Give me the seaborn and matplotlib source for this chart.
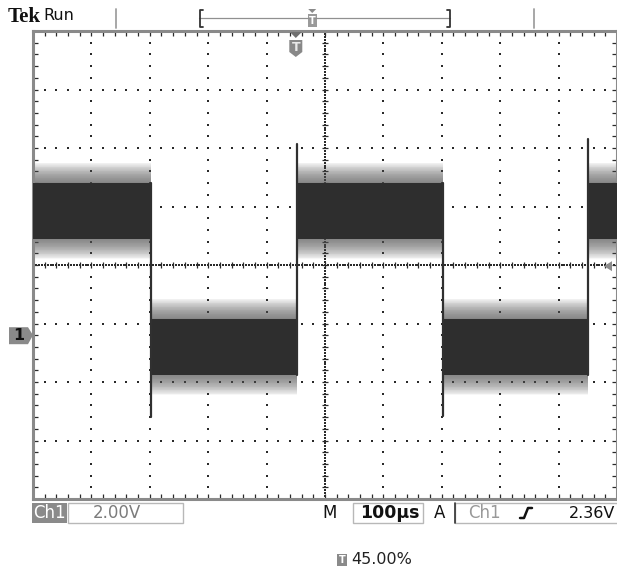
import numpy as np
import pandas as pd
import matplotlib
matplotlib.use("Agg")
import matplotlib.pyplot as plt
import seaborn as sns
from matplotlib.patches import Rectangle, Polygon

# scope settings shown on screen
time_per_div_us = 100
volts_per_div = 2.0
screen_center_v = 2.4
trigger_level_v = 2.36
trigger_pos_pct = 45.0

# square wave
edge_times_us = [202, 452, 702, 950]
spike_tips_v = [-2.8, 6.55, -2.75, 6.7]
start_state = "high"
high_level_v = 4.25
low_level_v = -0.4
core_half_v = 0.95
fuzz_half_v = 1.65

# status bar text
ch_label = "Ch1"
ch_scale = "2.00V"
time_scale = "100µs"
trig_source = "Ch1"
trig_level_text = "2.36V"
trig_pos_text = "45.00%"

sns.set_style("white")
plt.rcParams["font.family"] = ["DejaVu Sans"]

W, H = 617, 567
fig = plt.figure(figsize=(W / 100, H / 100), dpi=100)
ax_left, ax_right, ax_top, ax_bot = 33, 617, 31, 499
ax = fig.add_axes([ax_left / W, 1 - ax_bot / H, (ax_right - ax_left) / W, (ax_bot - ax_top) / H])

t_max = 10 * time_per_div_us
v_lo = screen_center_v - 4 * volts_per_div
v_hi = screen_center_v + 4 * volts_per_div
ax.set_xlim(0, t_max)
ax.set_ylim(v_lo, v_hi)

# ---- graticule ----
x_minor = np.arange(0, t_max + 0.1, time_per_div_us / 5)
y_minor = np.arange(v_lo, v_hi + 0.01, volts_per_div / 5)
x_major = np.arange(time_per_div_us, t_max, time_per_div_us)
y_major = np.arange(v_lo + volts_per_div, v_hi - 0.01, volts_per_div)
grid_col = "#2a2a2a"

for gx in x_major:
    if abs(gx - t_max / 2) > 1:
        ax.scatter(np.full_like(y_minor, gx), y_minor, s=1.6, marker="s", color=grid_col, lw=0, zorder=1)
for gy in y_major:
    if abs(gy - screen_center_v) > 0.01:
        ax.scatter(x_minor, np.full_like(x_minor, gy), s=1.6, marker="s", color=grid_col, lw=0, zorder=1)

# center cross lines: fine dots plus small ticks
x_fine = np.arange(0, t_max + 0.1, time_per_div_us / 20)
y_fine = np.arange(v_lo, v_hi + 0.01, volts_per_div / 20)
ax.scatter(x_fine, np.full_like(x_fine, screen_center_v), s=1.2, marker="s", color=grid_col, lw=0, zorder=1)
ax.scatter(np.full_like(y_fine, t_max / 2), y_fine, s=1.2, marker="s", color=grid_col, lw=0, zorder=1)
ax.scatter(x_minor, np.full_like(x_minor, screen_center_v), s=14, marker="|", color=grid_col, lw=0.9, zorder=1)
ax.scatter(np.full_like(y_minor, t_max / 2), y_minor, s=14, marker="_", color=grid_col, lw=0.9, zorder=1)

ax.set_xticks(x_minor)
ax.set_yticks(y_minor)
ax.tick_params(which="both", direction="in", length=3.5, width=0.9, color=grid_col,
               top=True, right=True, bottom=True, left=True,
               labelbottom=False, labelleft=False)
for side in ["left", "top", "bottom", "right"]:
    ax.spines[side].set_color("#8a8a8a")
    ax.spines[side].set_linewidth(2.2)

# ---- trace ----
bounds = [0] + edge_times_us + [t_max]
state = start_state
n_layers = 26
for t0, t1 in zip(bounds[:-1], bounds[1:]):
    lvl = high_level_v if state == "high" else low_level_v
    for k in range(1, n_layers + 1):
        h = core_half_v + (fuzz_half_v - core_half_v) * k / n_layers
        ax.fill_between([t0, t1], lvl - h, lvl + h, color="#5a5a5a", alpha=0.045, lw=0, zorder=2)
    ax.fill_between([t0, t1], lvl - core_half_v, lvl + core_half_v, color="#2e2e2e", lw=0, zorder=3)
    state = "low" if state == "high" else "high"

edge_rows = []
state = start_state
for i, (t, tip) in enumerate(zip(edge_times_us, spike_tips_v)):
    if state == "high":
        start_v = high_level_v + core_half_v
    else:
        start_v = low_level_v - core_half_v
    edge_rows.append({"t": t, "v": start_v, "edge": i})
    edge_rows.append({"t": t, "v": tip, "edge": i})
    state = "low" if state == "high" else "high"
edges = pd.DataFrame(edge_rows)
sns.lineplot(data=edges, x="t", y="v", units="edge", estimator=None, sort=False,
             color="#303030", lw=1.6, ax=ax, zorder=4, legend=False)
ax.set_xlabel("")
ax.set_ylabel("")


def to_px(t, v):
    d = ax.transData.transform((t, v))
    return d[0], H - d[1]


# ---- overlay in pixel coordinates ----
ov = fig.add_axes([0, 0, 1, 1], zorder=5)
ov.set_xlim(0, W)
ov.set_ylim(H, 0)
ov.axis("off")
ov.patch.set_alpha(0)

gray = "#8a8a8a"
ov.text(8, 16.5, "Tek", family="Liberation Serif", weight="bold", fontsize=15, va="center", color="#111")
ov.text(43, 16, "Run", fontsize=11.5, va="center", color="#111")
ov.plot([116, 116], [9, 28], color="#a0a0a0", lw=1.3)
ov.plot([534, 534], [9, 28], color="#a0a0a0", lw=1.3)
ov.plot([199, 450], [18, 18], color="#909090", lw=0.9)
ov.plot([203, 199.5, 199.5, 203], [10, 10, 26.5, 26.5], color="#333", lw=1.3)
ov.plot([447, 450, 450, 447], [10, 10, 26.5, 26.5], color="#333", lw=1.3)
rec_x = 199.5 + trigger_pos_pct / 100 * (450 - 199.5)
ov.add_patch(Polygon([[rec_x - 4, 9], [rec_x + 4, 9], [rec_x, 13]], color=gray, lw=0))
ov.add_patch(Rectangle((rec_x - 4.5, 14), 9, 13, color="#9a9a9a", lw=0))
ov.text(rec_x, 21, "T", color="white", fontsize=7, weight="bold", ha="center", va="center")

# trigger position marker at top of graticule
tx, _ = to_px(trigger_pos_pct / 100 * t_max, v_hi)
ov.add_patch(Polygon([[tx - 6, 32], [tx + 6, 32], [tx, 38]], color="#707070", lw=0))
ov.add_patch(Polygon([[tx - 6.5, 40], [tx + 6.5, 40], [tx + 6.5, 52], [tx, 57], [tx - 6.5, 52]],
                     color="#888", lw=0))
ov.text(tx, 47.5, "T", color="#e8e8e8", fontsize=9, weight="bold", ha="center", va="center")

# channel ground marker
_, gy = to_px(0, 0)
ov.add_patch(Polygon([[9, gy - 8], [28, gy - 8], [33, gy], [28, gy + 9], [9, gy + 9]], color=gray, lw=0))
ov.text(18.5, gy + 0.5, "1", color="#111", fontsize=11.5, weight="bold", ha="center", va="center")

# trigger level arrow
_, ly = to_px(t_max, trigger_level_v)
ov.add_patch(Polygon([[604, ly], [612, ly - 5], [612, ly + 5]], color="#8c8c8c", lw=0))

# status bar
sy0, sy1 = 503, 523
sc = (sy0 + sy1) / 2
ov.add_patch(Rectangle((32, sy0), 35, sy1 - sy0, color=gray, lw=0))
ov.text(49.5, sc, ch_label, color="white", fontsize=12, ha="center", va="center")
ov.add_patch(Rectangle((68, sy0), 115, sy1 - sy0, fill=False, ec="#b8b8b8", lw=1))
ov.text(117, sc, ch_scale, color="#7c7c7c", fontsize=12, ha="center", va="center")
ov.text(330, sc, "M", color="#111", fontsize=12, ha="center", va="center")
ov.add_patch(Rectangle((353, sy0), 70, sy1 - sy0, fill=False, ec="#b8b8b8", lw=1))
ov.text(390, sc, time_scale, color="#111", fontsize=12.5, weight="bold", ha="center", va="center")
ov.text(440, sc, "A", color="#111", fontsize=12, ha="center", va="center")
ov.plot([455, 455], [sy0, sy1], color="#333", lw=1.2)
ov.add_patch(Rectangle((455, sy0), 165, sy1 - sy0, fill=False, ec="#b8b8b8", lw=1))
ov.text(484, sc, trig_source, color="#999", fontsize=12, ha="center", va="center")
ov.plot([520, 524, 528, 532], [518, 518, 508, 508], color="#111", lw=1.8)
ov.text(615, sc, trig_level_text, color="#111", fontsize=11.5, ha="right", va="center")

# trigger position readout
ov.add_patch(Rectangle((337, 554), 10, 12, color=gray, lw=0))
ov.text(342, 560, "T", color="white", fontsize=7, weight="bold", ha="center", va="center")
ov.text(351, 560, trig_pos_text, color="#222", fontsize=11.5, ha="left", va="center")

fig.savefig("out.png", dpi=100)
